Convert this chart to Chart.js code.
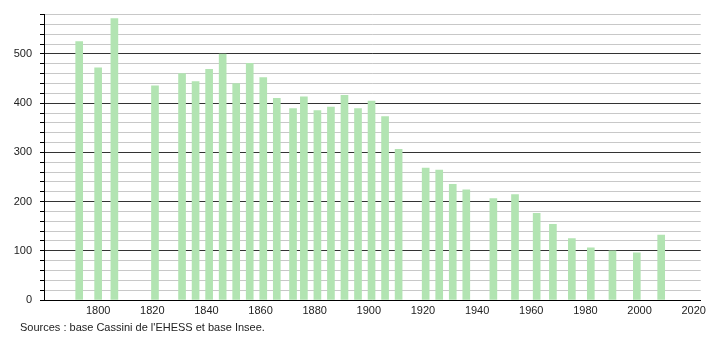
<!DOCTYPE html>
<html>
<head>
<meta charset="utf-8">
<script src="https://cdn.jsdelivr.net/npm/chart.js@4/dist/chart.umd.min.js"></script>
<style>
html,body{margin:0;padding:0;background:#fff;}
#wrap{position:relative;width:710px;height:340px;}
</style>
</head>
<body>
<div id="wrap"><canvas id="c" width="710" height="340"></canvas></div>
<script>
const years = [1793,1800,1806,1821,1831,1836,1841,1846,1851,1856,1861,1866,1872,1876,1881,1886,1891,1896,1901,1906,1911,1921,1926,1931,1936,1946,1954,1962,1968,1975,1982,1990,1999,2008];
const population = [525,472,572,435,460,444,469,500,440,481,452,410,389,413,385,392,416,389,404,373,306,268,264,235,224,206,214,176,154,125,106,100,96,132];
const yTicks = [0,100,200,300,400,500];
const xTickLabels = [1800,1820,1840,1860,1880,1900,1920,1940,1960,1980,2000,2020];
const sourceText = "Sources : base Cassini de l'EHESS et base Insee.";

const points = years.map((y,i)=>({x:y,y:population[i]}));
const FONT = {family:"'Liberation Sans', Arial, sans-serif", size:11};

const sourcesPlugin = {
  id:'sources',
  afterDraw(chart){
    const ctx = chart.ctx;
    ctx.save();
    ctx.font = "11px 'Liberation Sans', Arial, sans-serif";
    ctx.fillStyle = '#222';
    ctx.textBaseline = 'middle';
    ctx.fillText(sourceText, 20, 328);
    ctx.restore();
  }
};

new Chart(document.getElementById('c'), {
  type:'bar',
  data:{datasets:[{data:points, backgroundColor:'rgb(178,228,178)', borderWidth:0, barThickness:7}]},
  options:{
    responsive:false, animation:false,
    layout:{padding:{top:10,right:9,left:0,bottom:0}},
    plugins:{legend:{display:false},tooltip:{enabled:false}},
    scales:{
      x:{
        type:'linear', min:1780, max:2022.6, offset:false,
        grid:{display:false, drawTicks:false},
        border:{display:true,color:'#000',width:1},
        ticks:{padding:4, color:'#222', font:FONT, maxRotation:0, autoSkip:false,
          callback:(v)=> String(v)},
        afterBuildTicks(s){ s.ticks = xTickLabels.map(v=>({value:v})); },
        afterFit(s){ s.height = 40; }
      },
      y:{
        min:0, max:580,
        grid:{
          z:-1,
          color:(c)=> (c.tick && c.tick.value % 100 === 0) ? '#333' : '#c8c8c8',
          tickColor:'#000', tickLength:4, lineWidth:1
        },
        border:{display:true,color:'#000',width:1},
        ticks:{stepSize:20, padding:8, color:'#222', font:FONT, autoSkip:false, maxTicksLimit:100,
          callback:(v)=> yTicks.includes(v) ? String(v) : ''},
        afterFit(s){ s.width = 44; }
      }
    }
  },
  plugins:[sourcesPlugin]
});
</script>
</body>
</html>
